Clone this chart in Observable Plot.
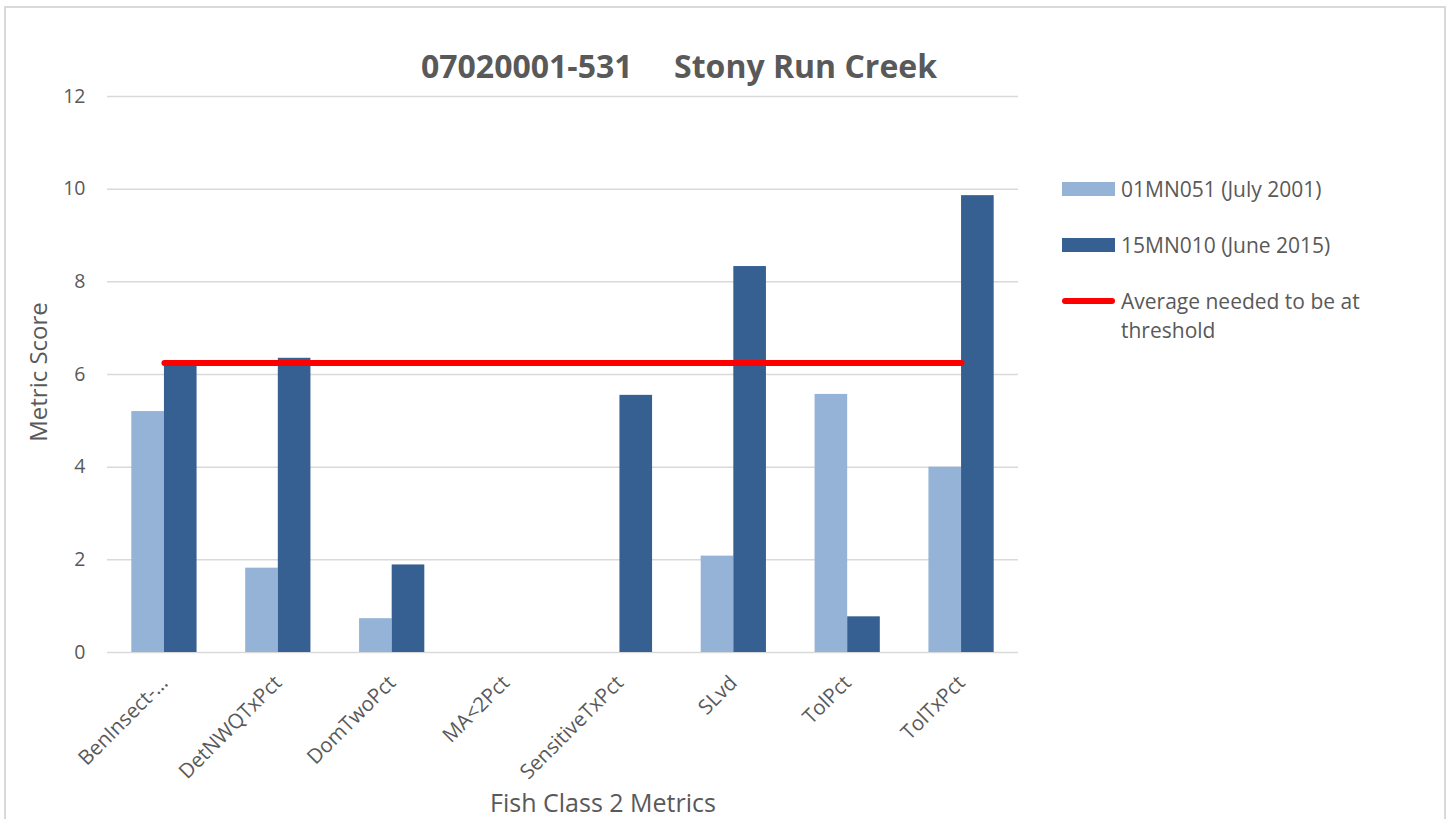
<!DOCTYPE html>
<html>
<head>
<meta charset="utf-8">
<script src="https://cdn.jsdelivr.net/npm/d3@7"></script>
<script src="https://cdn.jsdelivr.net/npm/@observablehq/plot@0.6"></script>
<style>
  html, body { margin: 0; padding: 0; background: #fff; }
  #wrap { position: relative; width: 1451px; height: 819px; overflow: hidden; font-family: "Open Sans", sans-serif; color: #595959; }
  #frame { position: absolute; left: 4px; top: 6px; width: 1442px; height: 840px; border: 2px solid #d9d9d9; box-sizing: border-box; }
  #chart { position: absolute; left: 0; top: 0; }
  #title { position: absolute; left: 279px; width: 800px; top: 45px; text-align: center; font-weight: bold; font-size: 32px; white-space: pre; line-height: 42px; }
  #ylabel { position: absolute; left: 37px; top: 372px; transform: translate(-50%, -50%) rotate(-90deg); font-size: 24px; white-space: nowrap; }
  #xlabel { position: absolute; left: 603px; top: 802px; transform: translate(-50%, -50%); font-size: 25px; white-space: nowrap; }
  .leg { position: absolute; left: 1062px; font-size: 21px; line-height: 29px; }
  .sw { position: absolute; left: 0; width: 53px; }
  .lt { position: absolute; left: 59px; width: 260px; }
</style>
</head>
<body>
<div id="wrap">
  <div id="frame"></div>
  <div id="title"></div>
  <div id="chart"></div>
  <div id="ylabel"></div>
  <div id="xlabel"></div>
  <div id="legend"></div>
</div>
<script>
const titleText = "07020001-531     Stony Run Creek";
const xTitle = "Fish Class 2 Metrics";
const yTitle = "Metric Score";
const categories = ["BenInsect-…", "DetNWQTxPct", "DomTwoPct", "MA<2Pct", "SensitiveTxPct", "SLvd", "TolPct", "TolTxPct"];
const series = ["01MN051 (July 2001)", "15MN010 (June 2015)"];
const values2001 = [5.2, 1.82, 0.73, 0, 0, 2.08, 5.57, 4.0];
const values2015 = [6.27, 6.35, 1.89, 0, 5.55, 8.33, 0.77, 9.86];
const thresholdValue = 6.25;
const thresholdLabel = "Average needed to be at threshold";
const yTicks = [0, 2, 4, 6, 8, 10, 12];
const colors = ["#95b3d7", "#366092"];
const lineColor = "#ff0000";

const W = 1451, H = 819, ml = 107, mr = 433, mt = 96, mb = 167;
const padInner = 0.427;
const step = (W - ml - mr) / categories.length;
const half = step * (1 - padInner) / 2;

const rows2001 = categories.map((c, i) => ({cat: c, series: series[0], v: values2001[i]}));
const rows2015 = categories.map((c, i) => ({cat: c, series: series[1], v: values2015[i]}));
const lineRows = categories.map(c => ({cat: c, v: thresholdValue}));

const chart = Plot.plot({
  width: W, height: H,
  marginLeft: ml, marginRight: mr, marginTop: mt, marginBottom: mb,
  style: {fontFamily: "Open Sans", fontSize: "19.5px", color: "#595959", background: "transparent", overflow: "visible"},
  x: {type: "band", domain: categories, paddingInner: padInner, paddingOuter: padInner / 2, round: false,
      label: null, tickSize: 0, tickRotate: -45, tickPadding: 27},
  y: {domain: [0, 12], ticks: 6, label: null, tickSize: 0, tickPadding: 22},
  marks: [
    Plot.ruleY(yTicks, {stroke: "#d9d9d9", strokeWidth: 1.5}),
    Plot.barY(rows2001, {x: "cat", y: "v", fill: colors[0], insetRight: half}),
    Plot.barY(rows2015, {x: "cat", y: "v", fill: colors[1], insetLeft: half}),
    Plot.lineY(lineRows, {x: "cat", y: "v", stroke: lineColor, strokeWidth: 6, strokeLinecap: "round"})
  ]
});
d3.select(chart).selectAll('g[aria-label^="x-axis"] text').attr("font-size", "20.5px").style("font-size", "20.5px");
document.getElementById("chart").appendChild(chart);

document.getElementById("title").textContent = titleText;
document.getElementById("xlabel").textContent = xTitle;
document.getElementById("ylabel").textContent = yTitle;

const legend = document.getElementById("legend");
const legendItems = [
  {label: series[0], color: colors[0], type: "bar", y: 189},
  {label: series[1], color: colors[1], type: "bar", y: 245},
  {label: thresholdLabel, color: lineColor, type: "line", y: 301}
];
legendItems.forEach(it => {
  const d = document.createElement("div");
  d.className = "leg";
  d.style.top = (it.y - 14.5) + "px";
  const sw = document.createElement("div");
  sw.className = "sw";
  if (it.type === "bar") {
    sw.style.top = "7.5px"; sw.style.height = "14px"; sw.style.background = it.color;
  } else {
    sw.style.top = "11.5px"; sw.style.height = "6px"; sw.style.background = it.color; sw.style.borderRadius = "3px";
  }
  const t = document.createElement("div");
  t.className = "lt";
  t.style.top = "0px";
  t.textContent = it.label;
  d.appendChild(sw); d.appendChild(t);
  legend.appendChild(d);
});
</script>
</body>
</html>
